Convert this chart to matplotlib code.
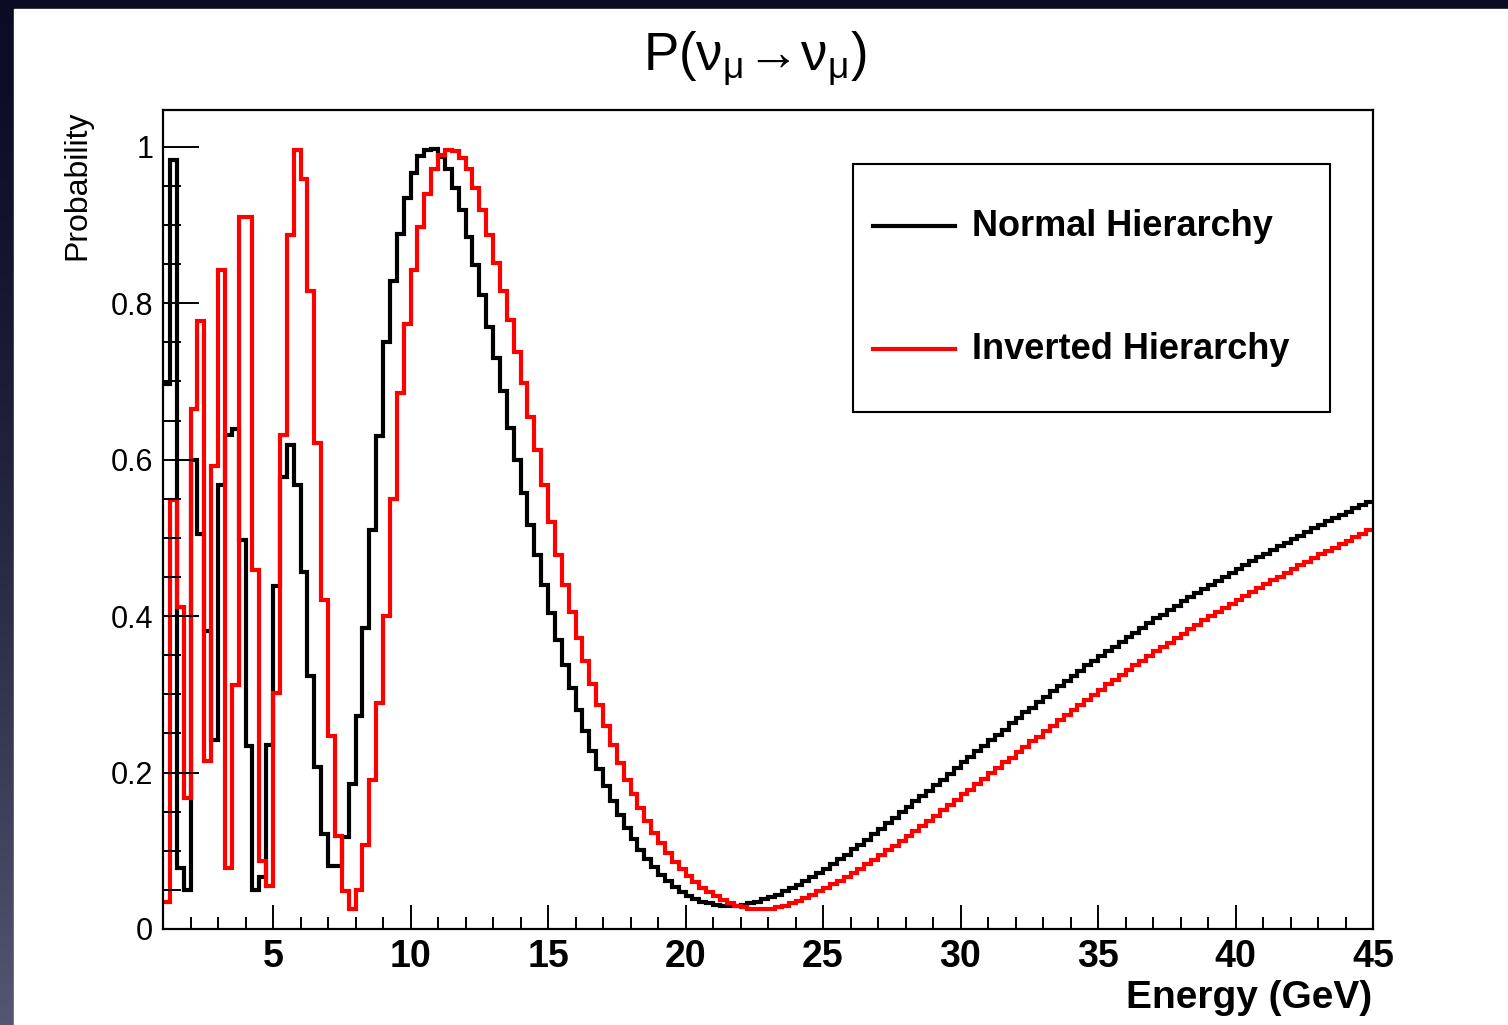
import numpy as np
import matplotlib
matplotlib.use("Agg")
import matplotlib.pyplot as plt
from matplotlib.patches import Rectangle
from matplotlib.ticker import MultipleLocator

plt.rcParams['font.family'] = ['Liberation Sans', 'DejaVu Sans']
plt.rcParams['mathtext.fontset'] = 'custom'
plt.rcParams['mathtext.rm'] = 'Liberation Sans'
plt.rcParams['mathtext.it'] = 'Liberation Sans'
plt.rcParams['mathtext.default'] = 'regular'

# histogram binning: 0.25 GeV bins from 1 to 45 GeV
e_min, e_max = 1.0, 45.0

# P(numu -> numu) per bin
normal_h = [
    0.697, 0.983, 0.078, 0.050, 0.600, 0.505, 0.381, 0.242, 0.568, 0.632,
    0.639, 0.497, 0.234, 0.050, 0.067, 0.235, 0.438, 0.578, 0.619, 0.568,
    0.456, 0.324, 0.207, 0.122, 0.081, 0.080, 0.118, 0.186, 0.272, 0.385,
    0.510, 0.630, 0.750, 0.829, 0.889, 0.934, 0.967, 0.988, 0.996, 0.997,
    0.987, 0.971, 0.947, 0.919, 0.885, 0.849, 0.811, 0.770, 0.730, 0.688,
    0.641, 0.599, 0.558, 0.517, 0.478, 0.440, 0.404, 0.370, 0.338, 0.308,
    0.280, 0.253, 0.227, 0.204, 0.183, 0.164, 0.146, 0.129, 0.115, 0.101,
    0.089, 0.079, 0.069, 0.061, 0.054, 0.047, 0.042, 0.038, 0.035, 0.033,
    0.031, 0.030, 0.030, 0.030, 0.031, 0.033, 0.035, 0.038, 0.041, 0.044,
    0.048, 0.052, 0.056, 0.061, 0.066, 0.071, 0.077,
    0.083, 0.089, 0.095, 0.102, 0.108, 0.114, 0.121, 0.128, 0.135, 0.142,
    0.149, 0.156, 0.163, 0.170, 0.177, 0.184, 0.191, 0.198, 0.206, 0.213,
    0.220, 0.227, 0.234, 0.241, 0.248, 0.255, 0.263, 0.270, 0.277, 0.283,
    0.290, 0.297, 0.304, 0.311, 0.317, 0.324, 0.330, 0.337, 0.343, 0.349,
    0.355, 0.361, 0.367, 0.373, 0.379, 0.385, 0.391, 0.397, 0.402, 0.408,
    0.413, 0.419, 0.424, 0.430, 0.435, 0.440, 0.445, 0.450, 0.455, 0.460,
    0.465, 0.470, 0.475, 0.480, 0.484, 0.489, 0.494, 0.498, 0.503, 0.507,
    0.512, 0.516, 0.521, 0.525, 0.529, 0.533, 0.538, 0.542, 0.546,
]

inverted_h = [
    0.034, 0.548, 0.412, 0.167, 0.665, 0.777, 0.215, 0.592, 0.842, 0.078,
    0.312, 0.910, 0.910, 0.459, 0.087, 0.055, 0.302, 0.632, 0.887, 0.996,
    0.959, 0.816, 0.621, 0.421, 0.247, 0.119, 0.048, 0.026, 0.050, 0.108,
    0.191, 0.289, 0.400, 0.550, 0.685, 0.774, 0.842, 0.897, 0.940, 0.971,
    0.989, 0.996, 0.995, 0.986, 0.971, 0.947, 0.919, 0.887, 0.852, 0.815,
    0.778, 0.737, 0.698,
    0.655, 0.612, 0.568, 0.520, 0.478, 0.440, 0.405, 0.372, 0.342, 0.313,
    0.286, 0.260, 0.235, 0.212, 0.191, 0.172, 0.155, 0.138, 0.123, 0.110,
    0.097, 0.086, 0.077, 0.068, 0.060, 0.053, 0.047, 0.042, 0.037, 0.033,
    0.030, 0.028, 0.026, 0.025, 0.025, 0.026, 0.028, 0.030, 0.033, 0.036,
    0.040, 0.044, 0.048, 0.052,
    0.057, 0.062, 0.066, 0.071, 0.077, 0.083, 0.088, 0.094, 0.101, 0.106,
    0.112, 0.119, 0.125, 0.132, 0.138, 0.145, 0.152, 0.158, 0.165, 0.172,
    0.178, 0.185, 0.192, 0.199, 0.206, 0.213, 0.219, 0.226, 0.233, 0.240,
    0.246, 0.253, 0.260, 0.267, 0.274, 0.280, 0.286, 0.293, 0.299, 0.306,
    0.313, 0.318, 0.325, 0.331, 0.337, 0.343, 0.349, 0.355, 0.360, 0.366,
    0.372, 0.377, 0.383, 0.389, 0.395, 0.400, 0.405, 0.411, 0.416, 0.421,
    0.426, 0.431, 0.436, 0.441, 0.446, 0.450, 0.455, 0.460, 0.465, 0.469,
    0.474, 0.479, 0.483, 0.487, 0.492, 0.496, 0.501, 0.505, 0.510,
]

series_labels = ['Normal Hierarchy', 'Inverted Hierarchy']
series_colors = ['black', '#ff0000']
x_ticks = [5, 10, 15, 20, 25, 30, 35, 40, 45]
y_ticks = [0, 0.2, 0.4, 0.6, 0.8, 1.0]
y_ticklabels = ['0', '0.2', '0.4', '0.6', '0.8', '1']

edges = np.linspace(e_min, e_max, len(normal_h) + 1)

W, H = 1508, 1025
fig = plt.figure(figsize=(W / 100, H / 100), dpi=100)

# dark slide background with a white canvas on top
bg = fig.add_axes([0, 0, 1, 1], zorder=-10)
grad = np.linspace(0, 1, 200)[:, None, None]
top_c = np.array([0.04, 0.05, 0.14])
bot_c = np.array([0.33, 0.34, 0.45])
bg.imshow(top_c + (bot_c - top_c) * grad ** 1.5 * np.ones((1, 2, 1)),
          aspect='auto', extent=[0, 1, 0, 1])
bg.set_axis_off()
fig.patches.append(Rectangle((14 / W, 0), 1 - 14 / W, 1 - 9 / H,
                             transform=fig.transFigure, color='white', zorder=-5))

ax = fig.add_axes([163 / W, 1 - 929 / H, 1210 / W, 819 / H])
ax.set_facecolor('white')

for vals, col in zip([normal_h, inverted_h], series_colors):
    ax.stairs(vals, edges, baseline=None, color=col, lw=3)

ax.set_xlim(e_min, e_max)
ax.set_ylim(0, 1.047)

ax.set_xticks(x_ticks)
ax.set_xticklabels([str(t) for t in x_ticks], fontweight='bold')
ax.xaxis.set_minor_locator(MultipleLocator(1))
ax.set_yticks(y_ticks)
ax.set_yticklabels(y_ticklabels)
ax.yaxis.set_minor_locator(MultipleLocator(0.05))

ax.tick_params(axis='x', which='major', direction='in', length=17, width=1.4,
               pad=7, labelsize=27, top=False)
ax.tick_params(axis='x', which='minor', direction='in', length=8.6, width=1.4, top=False)
ax.tick_params(axis='y', which='major', direction='in', length=26, width=1.4,
               pad=7, labelsize=22, right=False)
ax.tick_params(axis='y', which='minor', direction='in', length=13, width=1.4, right=False)
for sp in ax.spines.values():
    sp.set_linewidth(1.6)

# titles
fig.text(755 / W, 1 - 58 / H, r'P($\nu_{\mu}\!\rightarrow\!\nu_{\mu}$)',
         ha='center', va='center', fontsize=38)
fig.text(1372 / W, 1 - 1008 / H, 'Energy (GeV)', ha='right', va='baseline',
         fontsize=28, fontweight='bold')
fig.text(77 / W, 1 - 111 / H, 'Probability', rotation=90, ha='center', va='top',
         fontsize=23)

# legend box
ax.add_patch(Rectangle((0.570, 0.631), 0.3945, 0.303, transform=ax.transAxes,
                       fill=False, lw=1.5, edgecolor='black'))
for i, (lab, col) in enumerate(zip(series_labels, series_colors)):
    yy = 0.858 - i * 0.150
    ax.plot([0.587, 0.6545], [yy, yy], color=col, lw=3, transform=ax.transAxes)
    ax.text(0.669, yy, lab, transform=ax.transAxes, ha='left', va='center',
            fontsize=26, fontweight='bold')

fig.savefig('out.png', dpi=100)
